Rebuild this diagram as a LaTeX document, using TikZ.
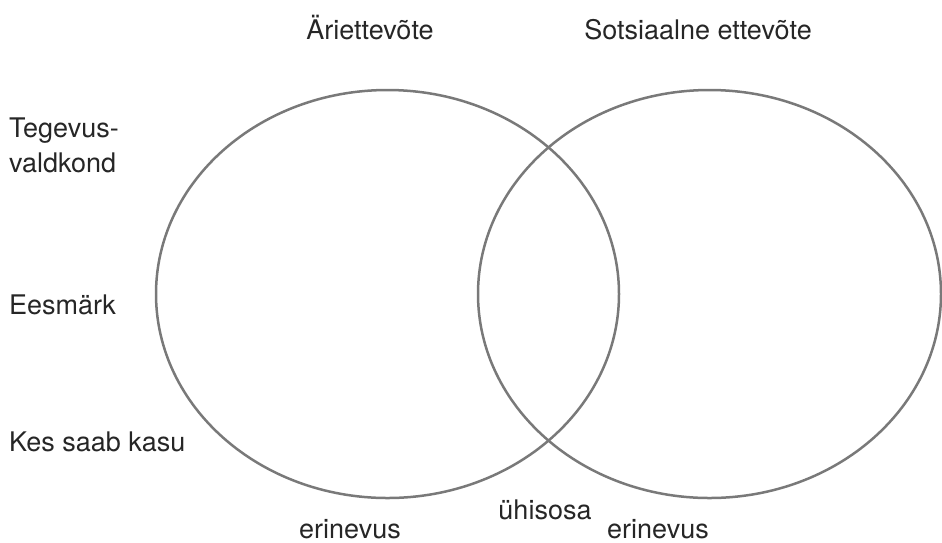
\documentclass[tikz,border=0pt]{standalone}
\usepackage{fontspec}
\setmainfont{TeX Gyre Heros}
\usetikzlibrary{shapes.geometric}

\begin{document}
\begin{tikzpicture}[x=1pt, y=-1pt, font=\fontsize{27}{35}\selectfont,
  ring/.style={draw=gray!95!black, line width=2.5pt, ellipse, inner sep=0pt,
    minimum width=463pt, minimum height=408pt},
  label/.style={inner sep=0pt, text=black!85}]
  \useasboundingbox (0,0) rectangle (942,542);
  %% Two overlapping sets
  \node[ring] (aria) at (387.5,294) {};
  \node[ring] (sots) at (709.5,294) {};
  %% Set titles
  \node[label, anchor=base] (ariatitle) at (370,39) {Äriettevõte};
  \node[label, anchor=base] (sotstitle) at (698,39) {Sotsiaalne ettevõte};
  %% Row labels on the left
  \node[label, anchor=north west, align=left] (valdkond) at (9,118)
    {Tegevus-\\valdkond};
  \node[label, anchor=base west] (eesmark) at (9,314) {Eesmärk};
  \node[label, anchor=base west] (kasu) at (9,451) {Kes saab kasu};
  %% Parts of the diagram
  \node[label, anchor=base] (erinevusA) at (350,538) {erinevus};
  \node[label, anchor=base] (uhisosa) at (545,519) {ühisosa};
  \node[label, anchor=base] (erinevusB) at (658,538) {erinevus};
\end{tikzpicture}
\end{document}
